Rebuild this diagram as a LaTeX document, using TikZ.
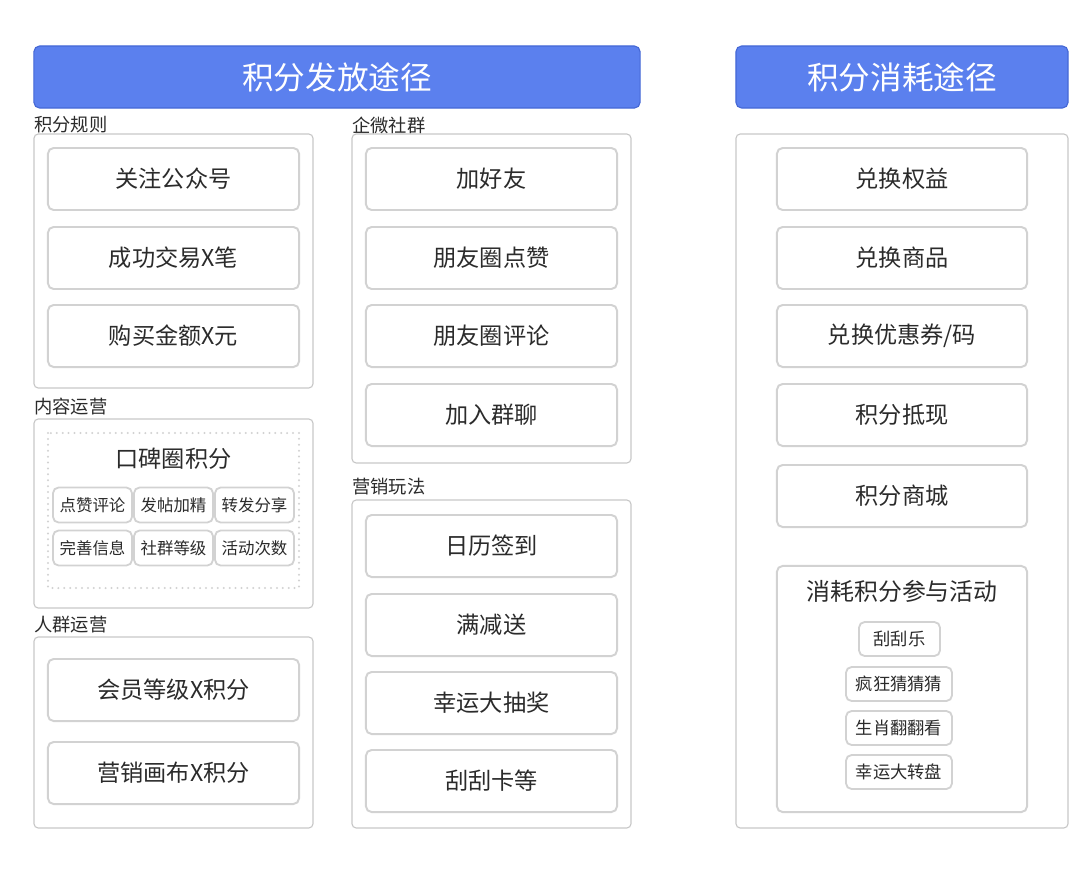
\documentclass[tikz,border=0pt]{standalone}
\usepackage{fontspec}
\setmainfont{Noto Sans CJK SC}
\usepackage{xcolor}
\definecolor{hdrBlue}{HTML}{5B80EE}
\definecolor{hdrEdge}{HTML}{4568D6}
\definecolor{boxEdge}{HTML}{D2D2D2}
\definecolor{panelEdge}{HTML}{C8C8C8}
\definecolor{txtDark}{HTML}{2B2B2B}
\usepackage{tikz}
\usetikzlibrary{
  positioning,
  calc
}
\tikzset{
  hdrbox/.style={
    draw=hdrEdge,
    fill=hdrBlue,
    rounded corners=4pt,
    line width=0.8pt,
    minimum height=1.55cm,
    text=white,
    font=\fontsize{22.5}{26}\selectfont
  },
  panel/.style={
    draw=panelEdge,
    line width=0.8pt,
    rounded corners=3pt
  },
  itembox/.style={
    draw=boxEdge,
    fill=white,
    line width=1.4pt,
    rounded corners=4pt,
    minimum width=6.275cm,
    minimum height=1.55cm,
    text=txtDark,
    font=\fontsize{16.5}{20}\selectfont
  },
  tagbox/.style={
    draw=boxEdge,
    fill=white,
    line width=1.3pt,
    rounded corners=4pt,
    minimum width=1.975cm,
    minimum height=0.875cm,
    inner sep=1pt,
    text=txtDark,
    font=\fontsize{11.7}{14}\selectfont
  },
  dotframe/.style={
    draw=boxEdge,
    line width=1.6pt,
    line cap=round,
    dash pattern=on 0pt off 4.2pt
  },
  seclabel/.style={
    anchor=west,
    inner sep=0pt,
    text=txtDark,
    font=\fontsize{13}{16}\selectfont
  }
}

\begin{document}
\begin{tikzpicture}[x=0.025cm, y=-0.025cm]
  \useasboundingbox[fill=white] (0,0) rectangle (1080,870);

  % headers
  \node[hdrbox, minimum width=15.15cm] (h1) at (337,77) {积分发放途径};
  \node[hdrbox, minimum width=8.3cm] (h2) at (902,77) {积分消耗途径};

  % left column
  \node[seclabel] (s1) at (34,125) {积分规则};
  \draw[panel] (34,134) rectangle (313,388);
  \node[itembox] (a1) at (173.5,179) {关注公众号};
  \node[itembox] (a2) at (173.5,258) {成功交易X笔};
  \node[itembox] (a3) at (173.5,336) {购买金额X元};

  \node[seclabel] (s2) at (34,407) {内容运营};
  \draw[panel] (34,419) rectangle (313,608);
  \draw[dotframe] (48,433) rectangle (299,588);
  \node[text=txtDark, font=\fontsize{16.5}{20}\selectfont] (k0) at (173.5,459) {口碑圈积分};
  \node[tagbox] (k1) at (92.5,505) {点赞评论};
  \node[tagbox] (k2) at (173.5,505) {发帖加精};
  \node[tagbox] (k3) at (254.5,505) {转发分享};
  \node[tagbox] (k4) at (92.5,548) {完善信息};
  \node[tagbox] (k5) at (173.5,548) {社群等级};
  \node[tagbox] (k6) at (254.5,548) {活动次数};

  \node[seclabel] (s3) at (34,625) {人群运营};
  \draw[panel] (34,637) rectangle (313,828);
  \node[itembox] (p1) at (173.5,690) {会员等级X积分};
  \node[itembox] (p2) at (173.5,773) {营销画布X积分};

  % middle column
  \node[seclabel] (s4) at (352,125) {企微社群};
  \draw[panel] (352,134) rectangle (631,463);
  \node[itembox] (w1) at (491.5,179) {加好友};
  \node[itembox] (w2) at (491.5,258) {朋友圈点赞};
  \node[itembox] (w3) at (491.5,336) {朋友圈评论};
  \node[itembox] (w4) at (491.5,415) {加入群聊};

  \node[seclabel] (s5) at (352,487) {营销玩法};
  \draw[panel] (352,500) rectangle (631,828);
  \node[itembox] (m1) at (491.5,546) {日历签到};
  \node[itembox] (m2) at (491.5,625) {满减送};
  \node[itembox] (m3) at (491.5,703) {幸运大抽奖};
  \node[itembox] (m4) at (491.5,781) {刮刮卡等};

  % right column
  \draw[panel] (736,134) rectangle (1068,828);
  \node[itembox, minimum width=6.25cm] (r1) at (902,179) {兑换权益};
  \node[itembox, minimum width=6.25cm] (r2) at (902,258) {兑换商品};
  \node[itembox, minimum width=6.25cm] (r3) at (902,336) {兑换优惠券/码};
  \node[itembox, minimum width=6.25cm] (r4) at (902,415) {积分抵现};
  \node[itembox, minimum width=6.25cm] (r5) at (902,496) {积分商城};
  \node[itembox, minimum width=6.25cm, minimum height=6.15cm] (r6) at (902,689) {};
  \node[text=txtDark, font=\fontsize{17}{20}\selectfont] (t0) at (902,591) {消耗积分参与活动};
  \node[tagbox, minimum width=2.025cm, minimum height=0.85cm, font=\fontsize{12.3}{15}\selectfont] (t1) at (899.5,639) {刮刮乐};
  \node[tagbox, minimum width=2.65cm, minimum height=0.85cm, font=\fontsize{12.3}{15}\selectfont] (t2) at (899,684) {疯狂猜猜猜};
  \node[tagbox, minimum width=2.65cm, minimum height=0.85cm, font=\fontsize{12.3}{15}\selectfont] (t3) at (899,728) {生肖翻翻看};
  \node[tagbox, minimum width=2.65cm, minimum height=0.85cm, font=\fontsize{12.3}{15}\selectfont] (t4) at (899,772) {幸运大转盘};
\end{tikzpicture}
\end{document}
